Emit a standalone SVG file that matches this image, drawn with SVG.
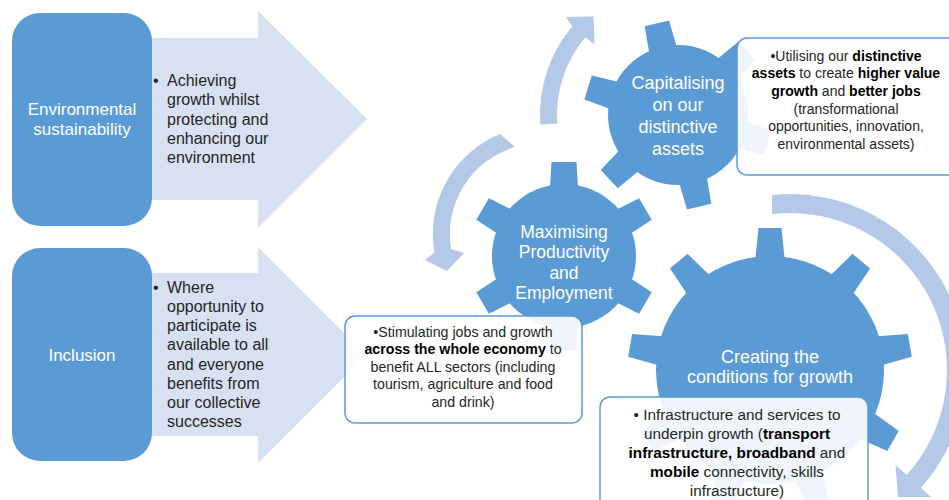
<svg xmlns="http://www.w3.org/2000/svg" xmlns:xlink="http://www.w3.org/1999/xlink" width="949" height="500" viewBox="0 0 949 500">
<style>
text { font-family: "Liberation Sans", Arial, sans-serif; }
.arr { fill: #D7E1F2; }
.lbox { fill: #5B9BD5; }
.gear { fill: #5B9BD5; }
.carr { fill: #B4C8E7; }
.tb { fill: #FFFFFF; fill-opacity: 0.9; stroke: #5B9BD5; stroke-width: 1.5; }
.lt { font-size: 16px; fill: #262626; }
.wt { font-size: 17px; fill: #FFFFFF; text-anchor: middle; }
.gt { font-size: 18px; fill: #FFFFFF; text-anchor: middle; }
.bt { fill: #262626; text-anchor: middle; }
.b { font-weight: bold; fill: #000000; }
</style>
<defs>
<polygon id="toothS" points="-14.5,-60 -12.5,-94 12.5,-94 14.5,-60"/>
<polygon id="toothL" points="-15,-108 -11.5,-142 11.5,-142 15,-108"/>
</defs>

<g id="node-environment">
<path class="arr" d="M140 38 L258 38 L258 11 L367 119 L258 228 L258 200 L140 200 Z"/>
<rect class="lbox" x="12" y="13" width="140" height="213" rx="28"/>
<text class="wt" x="82" y="115">Environmental</text>
<text class="wt" x="82" y="135">sustainability</text>
<text class="lt" x="153" y="86">•</text>
<text class="lt" x="167" y="86">Achieving</text>
<text class="lt" x="167" y="105">growth whilst</text>
<text class="lt" x="167" y="125">protecting and</text>
<text class="lt" x="167" y="144">enhancing our</text>
<text class="lt" x="167" y="163">environment</text>
</g>

<g id="node-inclusion">
<path class="arr" d="M140 273 L258 273 L258 247 L366 355 L258 463 L258 436 L140 436 Z"/>
<rect class="lbox" x="12" y="248" width="140" height="213" rx="28"/>
<text class="wt" x="82" y="361">Inclusion</text>
<text class="lt" x="153" y="293">•</text>
<text class="lt" x="167" y="293">Where</text>
<text class="lt" x="167" y="312">opportunity to</text>
<text class="lt" x="167" y="331">participate is</text>
<text class="lt" x="167" y="350">available to all</text>
<text class="lt" x="167" y="370">and everyone</text>
<text class="lt" x="167" y="389">benefits from</text>
<text class="lt" x="167" y="408">our collective</text>
<text class="lt" x="167" y="427">successes</text>
</g>

<g id="connectors">
<path class="carr" d="M540.3 124.6 A138 138 0 0 1 572.3 26.3 L566 17 L593.5 16.5 L594.5 44.5 L585.3 37.2 A121 121 0 0 0 557.3 123.4 Z"/>
<path class="carr" d="M500 134 A108 108 0 0 0 434.4 252.5 L425 260 L447 271 L464 253 L451 249 A91 91 0 0 1 515 147 Z"/>
<path class="carr" d="M772 195 A176 176 0 0 1 920.8 487.8 L931.2 497.1 L897.9 496.9 L895.5 465 L906.7 475 A157 157 0 0 0 772 214 Z"/>
</g>

<g id="gear-capitalising">
<g class="gear" transform="translate(678,115)">
<circle r="70"/>
<use xlink:href="#toothS" transform="rotate(-13)"/>
<use xlink:href="#toothS" transform="rotate(47)"/>
<use xlink:href="#toothS" transform="rotate(107)"/>
<use xlink:href="#toothS" transform="rotate(167)"/>
<use xlink:href="#toothS" transform="rotate(227)"/>
<use xlink:href="#toothS" transform="rotate(287)"/>
</g>
<text class="gt" x="678" y="89">Capitalising</text>
<text class="gt" x="678" y="111">on our</text>
<text class="gt" x="678" y="133">distinctive</text>
<text class="gt" x="678" y="155">assets</text>
</g>

<g id="gear-maximising">
<g class="gear" transform="translate(564,256)">
<circle r="72"/>
<use xlink:href="#toothS" transform="rotate(0)"/>
<use xlink:href="#toothS" transform="rotate(60)"/>
<use xlink:href="#toothS" transform="rotate(120)"/>
<use xlink:href="#toothS" transform="rotate(180)"/>
<use xlink:href="#toothS" transform="rotate(240)"/>
<use xlink:href="#toothS" transform="rotate(300)"/>
</g>
<text class="gt" x="564" y="238" style="font-size:17.5px">Maximising</text>
<text class="gt" x="564" y="258" style="font-size:17.5px">Productivity</text>
<text class="gt" x="564" y="279" style="font-size:17.5px">and</text>
<text class="gt" x="564" y="299" style="font-size:17.5px">Employment</text>
</g>

<g id="gear-creating">
<g class="gear" transform="translate(770,370)">
<circle r="114"/>
<use xlink:href="#toothL" transform="rotate(0)"/>
<use xlink:href="#toothL" transform="rotate(40)"/>
<use xlink:href="#toothL" transform="rotate(80)"/>
<use xlink:href="#toothL" transform="rotate(120)"/>
<use xlink:href="#toothL" transform="rotate(160)"/>
<use xlink:href="#toothL" transform="rotate(200)"/>
<use xlink:href="#toothL" transform="rotate(240)"/>
<use xlink:href="#toothL" transform="rotate(280)"/>
<use xlink:href="#toothL" transform="rotate(320)"/>
</g>
<text class="gt" x="770" y="363">Creating the</text>
<text class="gt" x="770" y="383">conditions for growth</text>
</g>

<g id="box-utilising">
<rect class="tb" x="737" y="38" width="222" height="137" rx="10"/>
<text class="bt" style="font-size:14px" x="846" y="61">•Utilising our <tspan class="b">distinctive</tspan></text>
<text class="bt" style="font-size:14px" x="846" y="78"><tspan class="b">assets</tspan> to create <tspan class="b">higher value</tspan></text>
<text class="bt" style="font-size:14px" x="846" y="96"><tspan class="b">growth</tspan> and <tspan class="b">better jobs</tspan></text>
<text class="bt" style="font-size:14px" x="846" y="114">(transformational</text>
<text class="bt" style="font-size:14px" x="846" y="131">opportunities, innovation,</text>
<text class="bt" style="font-size:14px" x="846" y="149">environmental assets)</text>
</g>

<g id="box-stimulating">
<rect class="tb" x="345" y="316" width="237" height="107" rx="10"/>
<text class="bt" style="font-size:14.2px" x="463" y="337">•Stimulating jobs and growth</text>
<text class="bt" style="font-size:14.2px" x="463" y="354"><tspan class="b">across the whole economy</tspan> to</text>
<text class="bt" style="font-size:14.2px" x="463" y="372">benefit ALL sectors (including</text>
<text class="bt" style="font-size:14.2px" x="463" y="389">tourism, agriculture and food</text>
<text class="bt" style="font-size:14.2px" x="463" y="407">and drink)</text>
</g>

<g id="box-infrastructure">
<rect class="tb" x="600" y="397" width="268" height="115" rx="10"/>
<text class="bt" style="font-size:15.3px" x="737" y="420">• Infrastructure and services to</text>
<text class="bt" style="font-size:15.3px" x="737" y="439">underpin growth (<tspan class="b">transport</tspan></text>
<text class="bt" style="font-size:15.3px" x="737" y="458"><tspan class="b">infrastructure, broadband</tspan> and</text>
<text class="bt" style="font-size:15.3px" x="737" y="477"><tspan class="b">mobile</tspan> connectivity, skills</text>
<text class="bt" style="font-size:15.3px" x="737" y="496">infrastructure)</text>
</g>
</svg>
